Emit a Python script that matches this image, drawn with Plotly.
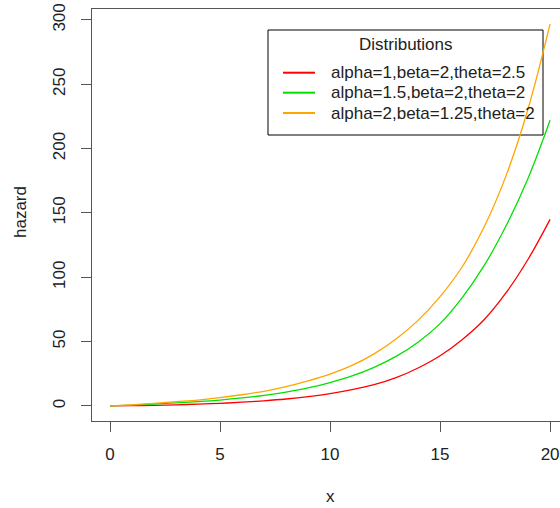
import plotly.graph_objects as go

x_vals = list(range(0, 21))
red_vals = [0, 0.2, 0.5, 0.9, 1.4, 2.0, 2.9, 4.0, 5.4, 7.2, 9.5, 12.6, 16.5, 22, 29.5, 39, 51.5, 67, 88, 114, 145]
green_vals = [0, 0.7, 1.5, 2.4, 3.4, 4.6, 6.2, 8.2, 10.8, 14.0, 18.2, 23.3, 30.0, 38.5, 49.5, 64, 84, 109, 140, 177, 222]
orange_vals = [0, 0.9, 2.0, 3.3, 4.6, 6.5, 8.7, 11.4, 15.0, 19.5, 24.8, 31.5, 40.5, 52, 66.5, 85, 108, 139, 179, 231, 297]

series_names = ["alpha=1,beta=2,theta=2.5", "alpha=1.5,beta=2,theta=2", "alpha=2,beta=1.25,theta=2"]
series_colors = ["#FF0000", "#00E000", "#FFA500"]
legend_title = "Distributions"
x_ticks = [0, 5, 10, 15, 20]
y_ticks = [0, 50, 100, 150, 200, 250, 300]

FONT = "Liberation Sans, Arial, sans-serif"
TXT = "#222222"
AX = "#555555"

# plot-area geometry in pixels
L, R, T, B = 92, 560, 9, 421


def px(xp):
    return (xp - L) / (R - L)


def py(yp):
    return (B - yp) / (B - T)


fig = go.Figure()
for name, vals, col in zip(series_names, [red_vals, green_vals, orange_vals], series_colors):
    fig.add_trace(go.Scatter(x=x_vals, y=vals, mode="lines", name=name, showlegend=False,
                             line=dict(color=col, width=1.3, shape="spline")))

shapes = [dict(type="rect", xref="paper", yref="paper", x0=px(268), x1=px(543), y0=py(135), y1=py(30),
               line=dict(color="black", width=1), fillcolor="white", layer="below")]
annotations = [
    dict(text="x", xref="paper", yref="paper", x=px(330), y=py(497),
         showarrow=False, xanchor="center", yanchor="middle", font=dict(size=17, color=TXT)),
    dict(text="hazard", xref="paper", yref="paper", x=px(20), y=py(212),
         showarrow=False, xanchor="center", yanchor="middle", textangle=-90,
         font=dict(size=17, color=TXT)),
    dict(text=legend_title, xref="paper", yref="paper", x=px(405.5), y=py(45),
         showarrow=False, xanchor="center", yanchor="middle", font=dict(size=17, color=TXT)),
]
row_y = [72.7, 92.7, 113]
for name, col, ry in zip(series_names, series_colors, row_y):
    shapes.append(dict(type="line", xref="paper", yref="paper", x0=px(283), x1=px(315), y0=py(ry), y1=py(ry),
                       line=dict(color=col, width=2), layer="below"))
    annotations.append(dict(text=name, xref="paper", yref="paper", x=px(329), y=py(ry),
                            showarrow=False, xanchor="left", yanchor="middle",
                            font=dict(size=17, color=TXT)))

fig.update_layout(
    width=560, height=508,
    margin=dict(l=L, r=560 - R, t=T, b=508 - B),
    paper_bgcolor="white", plot_bgcolor="white",
    font=dict(family=FONT, size=17, color=TXT),
    showlegend=False,
    xaxis=dict(range=[-0.818, 20.45], tickvals=x_ticks, ticks="outside", ticklen=10,
               tickcolor=AX, showline=True, linecolor=AX, linewidth=1, mirror=True,
               showgrid=False, zeroline=False, ticklabelstandoff=8,
               tickfont=dict(size=17, color=TXT)),
    yaxis=dict(range=[-11.7, 308.5], tickvals=y_ticks, ticks="outside", ticklen=10,
               tickcolor=AX, showline=True, linecolor=AX, linewidth=1, mirror=False,
               showgrid=False, zeroline=False, tickangle=-90, ticklabelstandoff=9,
               tickfont=dict(size=17, color=TXT)),
    shapes=shapes,
    annotations=annotations,
)

fig.write_html("out.html")
